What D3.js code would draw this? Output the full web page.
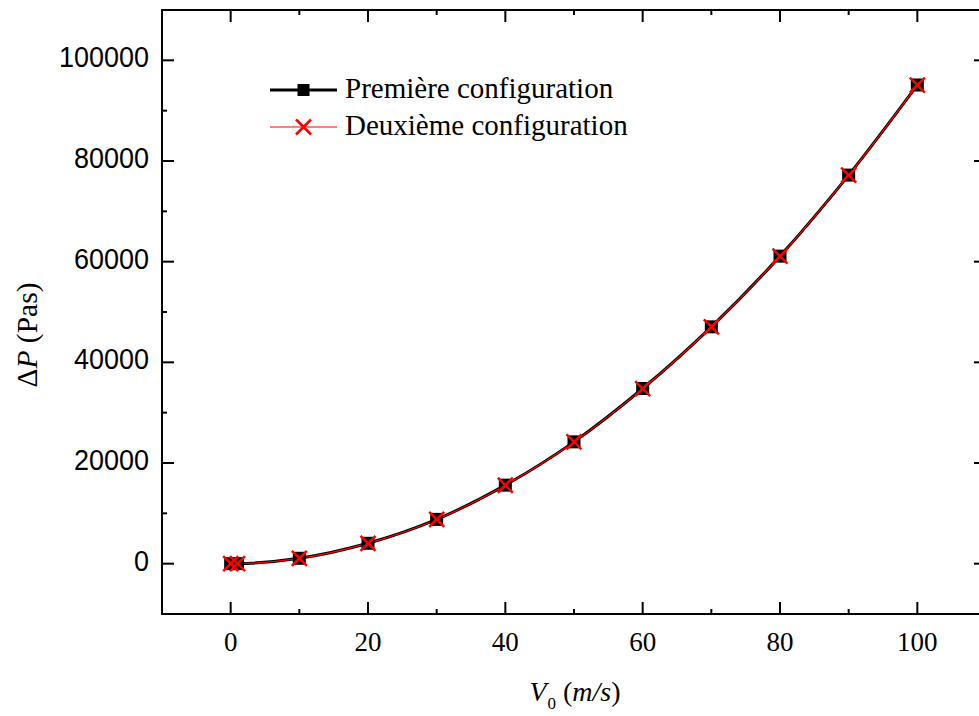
<!DOCTYPE html>
<html>
<head>
<meta charset="utf-8">
<script src="https://cdn.jsdelivr.net/npm/d3@7"></script>
<style>
  html, body { margin: 0; padding: 0; background: #fff; overflow: hidden; }
  svg { display: block; }
</style>
</head>
<body>
<script>
// Inlet velocity (m/s) and pressure drop (Pa) for the two configurations
const velocities = [0, 1, 10, 20, 30, 40, 50, 60, 70, 80, 90, 100];
const dpConfig1 = [0, 10, 1070, 4050, 8800, 15600, 24200, 34800, 47050, 61100, 77200, 95100];
const dpConfig2 = [0, 10, 1060, 4040, 8780, 15580, 24180, 34780, 47030, 61080, 77180, 95080];
const seriesNames = ["Première configuration", "Deuxième configuration"];
const xTickValues = [0, 20, 40, 60, 80, 100];
const yTickValues = [0, 20000, 40000, 60000, 80000, 100000];

const W = 979, H = 716;
const svg = d3.select("body").append("svg").attr("width", W).attr("height", H);

const plotLeft = 162, plotRight = 986, plotTop = 10, plotBottom = 614;
const x = d3.scaleLinear().domain([-10, 110]).range([plotLeft, plotRight]);
const y = d3.scaleLinear().domain([-10000, 110000]).range([plotBottom, plotTop]);

const serif = "'Liberation Serif', 'Times New Roman', serif";
const sans = "'Liberation Sans', Arial, sans-serif";

// Frame
svg.append("rect")
  .attr("x", plotLeft).attr("y", plotTop)
  .attr("width", plotRight - plotLeft).attr("height", plotBottom - plotTop)
  .attr("fill", "none").attr("stroke", "#000").attr("stroke-width", 2);

// Inward ticks on all four sides (major + minor)
const xMinor = d3.range(-10, 111, 10);
const yMinor = d3.range(-10000, 110001, 10000);
const tickG = svg.append("g").attr("stroke", "#000").attr("stroke-width", 2);
xMinor.forEach(v => {
  const len = xTickValues.includes(v) ? 12 : 5;
  tickG.append("line").attr("x1", x(v)).attr("x2", x(v)).attr("y1", plotBottom).attr("y2", plotBottom - len);
  tickG.append("line").attr("x1", x(v)).attr("x2", x(v)).attr("y1", plotTop).attr("y2", plotTop + len);
});
yMinor.forEach(v => {
  const len = yTickValues.includes(v) ? 12 : 5;
  tickG.append("line").attr("x1", plotLeft).attr("x2", plotLeft + len).attr("y1", y(v)).attr("y2", y(v));
  tickG.append("line").attr("x1", plotRight).attr("x2", plotRight - len).attr("y1", y(v)).attr("y2", y(v));
});

// Tick labels
svg.append("g").selectAll("text").data(xTickValues).join("text")
  .attr("x", d => x(d)).attr("y", 651)
  .attr("text-anchor", "middle")
  .attr("font-family", serif).attr("font-size", 27)
  .text(d => d);

svg.append("g").selectAll("text").data(yTickValues).join("text")
  .attr("transform", d => `translate(149,${y(d) + 7}) scale(1,1.12)`)
  .attr("text-anchor", "end")
  .attr("font-family", sans).attr("font-size", 27)
  .text(d => d);

// Axis titles
const xt = svg.append("text")
  .attr("x", 575).attr("y", 701)
  .attr("text-anchor", "middle")
  .attr("font-family", serif).attr("font-size", 28);
xt.append("tspan").attr("font-style", "italic").text("V");
xt.append("tspan").attr("font-size", 17).attr("dy", 8).attr("dx", 1).text("0");
xt.append("tspan").attr("dy", -8).text(" (");
xt.append("tspan").attr("font-style", "italic").text("m/s");
xt.append("tspan").text(")");

const yt = svg.append("text")
  .attr("transform", "translate(37,335) rotate(-90)")
  .attr("text-anchor", "middle")
  .attr("font-family", serif).attr("font-size", 29.5);
yt.append("tspan").text("Δ");
yt.append("tspan").attr("font-style", "italic").text("P");
yt.append("tspan").text(" (Pas)");

// Curves
const pts1 = velocities.map((v, i) => [v, dpConfig1[i]]);
const pts2 = velocities.map((v, i) => [v, dpConfig2[i]]);
const line = d3.line().x(d => x(d[0])).y(d => y(d[1])).curve(d3.curveMonotoneX);

const plot = svg.append("g");
plot.append("path").attr("d", line(pts1))
  .attr("fill", "none").attr("stroke", "#000").attr("stroke-width", 3);
plot.append("path").attr("d", line(pts2))
  .attr("fill", "none").attr("stroke", "#ff0000").attr("stroke-width", 1.2);

// Markers: black squares for the first configuration, red crosses for the second
const sq = 13, cr = 7.5;
plot.append("g").selectAll("rect").data(pts1).join("rect")
  .attr("x", d => x(d[0]) - sq / 2).attr("y", d => y(d[1]) - sq / 2)
  .attr("width", sq).attr("height", sq).attr("fill", "#000");
const crossPath = (cx, cy) => `M${cx - cr},${cy - cr}L${cx + cr},${cy + cr}M${cx - cr},${cy + cr}L${cx + cr},${cy - cr}`;
plot.append("g").selectAll("path").data(pts2).join("path")
  .attr("d", d => crossPath(x(d[0]), y(d[1])))
  .attr("fill", "none").attr("stroke", "#ff0000").attr("stroke-width", 2.5);

// Legend
const legend = svg.append("g");
const lx1 = 270, lx2 = 337, lmid = (lx1 + lx2) / 2;
const rows = [90, 127];
legend.append("line").attr("x1", lx1).attr("x2", lx2).attr("y1", rows[0]).attr("y2", rows[0])
  .attr("stroke", "#000").attr("stroke-width", 3);
legend.append("rect").attr("x", lmid - 6).attr("y", rows[0] - 6)
  .attr("width", 12).attr("height", 12).attr("fill", "#000");
legend.append("line").attr("x1", lx1).attr("x2", lx2).attr("y1", rows[1]).attr("y2", rows[1])
  .attr("stroke", "#ff0000").attr("stroke-width", 1.2);
legend.append("path").attr("d", crossPath(lmid, rows[1]))
  .attr("fill", "none").attr("stroke", "#ff0000").attr("stroke-width", 2.5);
legend.selectAll("text.lbl").data(seriesNames).join("text")
  .attr("class", "lbl")
  .attr("x", 345).attr("y", (d, i) => rows[i] + 8)
  .attr("font-family", serif).attr("font-size", 29)
  .text(d => d);
</script>
</body>
</html>
